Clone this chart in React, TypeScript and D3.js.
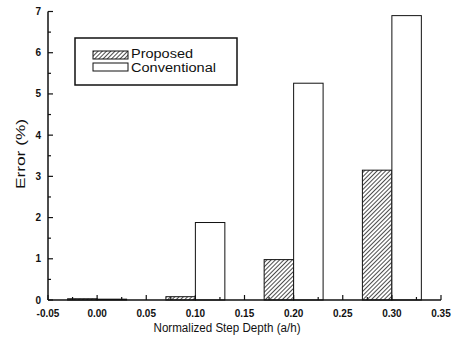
import React from "react";
import * as d3 from "d3";

const categories = [0.0, 0.1, 0.2, 0.3];
const proposed = [0.03, 0.08, 0.98, 3.15];
const conventional = [0.02, 1.88, 5.26, 6.9];
const xTicks = [-0.05, 0.0, 0.05, 0.1, 0.15, 0.2, 0.25, 0.3, 0.35];
const yTicks = [0, 1, 2, 3, 4, 5, 6, 7];
const legendLabels = ["Proposed", "Conventional"];

const W = 457;
const H = 342;
const barW = 0.03;

export default function App() {
  const x = d3.scaleLinear().domain([-0.05, 0.35]).range([48, 441]);
  const y = d3.scaleLinear().domain([0, 7]).range([300, 11.5]);
  const xMinor = d3.range(-0.05, 0.3501, 0.025);
  const yMinor = d3.range(0, 7.01, 0.5);
  const font = "Arial, 'Liberation Sans', sans-serif";
  return (
    <svg width={W} height={H} style={{ position: "absolute", left: 0, top: 0, background: "#fff" }} fontFamily={font}>
      <defs>
        <pattern id="hatch" width="3" height="3" patternUnits="userSpaceOnUse" patternTransform="rotate(45)">
          <rect width="3" height="3" fill="#fff" />
          <line x1="0" y1="0" x2="0" y2="3" stroke="#111" strokeWidth="1.5" />
        </pattern>
      </defs>
      {categories.map((c, i) => (
        <g key={i}>
          <rect x={x(c - barW)} y={y(proposed[i])} width={x(c) - x(c - barW)} height={y(0) - y(proposed[i])}
            fill="url(#hatch)" stroke="#111" strokeWidth={1} />
          <rect x={x(c)} y={y(conventional[i])} width={x(c + barW) - x(c)} height={y(0) - y(conventional[i])}
            fill="#fff" stroke="#111" strokeWidth={1} />
        </g>
      ))}
      <line x1={48} y1={y(7)} x2={48} y2={300} stroke="#111" strokeWidth={1.5} />
      <line x1={48} y1={300} x2={441} y2={300} stroke="#111" strokeWidth={1.5} />
      {yMinor.map((v, i) => (
        <line key={"ym" + i} x1={48} x2={Number.isInteger(v) ? 53 : 51} y1={y(v)} y2={y(v)} stroke="#111" strokeWidth={1.2} />
      ))}
      {xMinor.map((v, i) => (
        <line key={"xm" + i} y1={300} y2={i % 2 === 0 ? 295 : 297} x1={x(v)} x2={x(v)} stroke="#111" strokeWidth={1.2} />
      ))}
      {yTicks.map((v) => (
        <text key={"yt" + v} x={41} y={y(v) + 3.5} textAnchor="end" fontSize={10} fontWeight="bold" fill="#111">{v}</text>
      ))}
      {xTicks.map((v) => (
        <text key={"xt" + v} x={x(v)} y={317} textAnchor="middle" fontSize={10} fontWeight="bold" fill="#111">{v.toFixed(2)}</text>
      ))}
      <text x={227} y={332} textAnchor="middle" fontSize={12.5} fill="#111" textLength={147} lengthAdjust="spacingAndGlyphs">Normalized Step Depth (a/h)</text>
      <text transform={`translate(25,154) rotate(-90)`} textAnchor="middle" fontSize={13} fill="#111" textLength={70} lengthAdjust="spacingAndGlyphs">Error (%)</text>
      <rect x={75} y={38} width={162} height={47} fill="#fff" stroke="#111" strokeWidth={1.5} />
      <rect x={93} y={51} width={35} height={8} fill="url(#hatch)" stroke="#111" strokeWidth={1} />
      <rect x={93} y={63} width={35} height={8} fill="#fff" stroke="#111" strokeWidth={1} />
      <text x={131} y={57.5} fontSize={12} fill="#111" textLength={62} lengthAdjust="spacingAndGlyphs">{legendLabels[0]}</text>
      <text x={131} y={72} fontSize={12} fill="#111" textLength={85} lengthAdjust="spacingAndGlyphs">{legendLabels[1]}</text>
    </svg>
  );
}
